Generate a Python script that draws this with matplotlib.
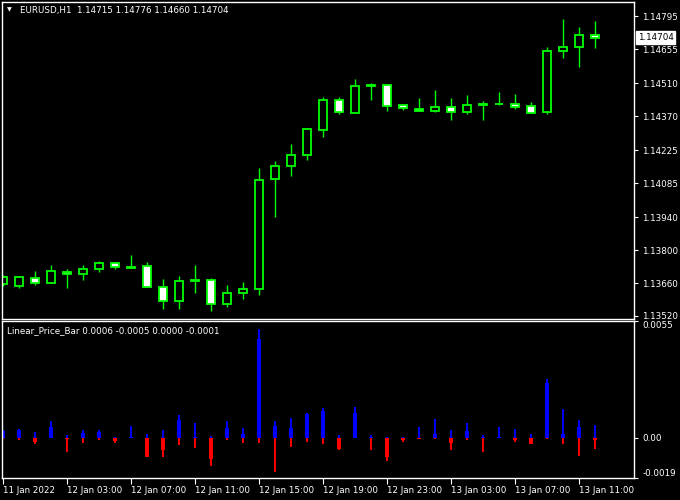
import numpy as np
import matplotlib
matplotlib.use("Agg")
import matplotlib.pyplot as plt

# EURUSD H1 candles
opens  = [1.13656, 1.13648, 1.13682, 1.13660, 1.13707, 1.13699, 1.13720, 1.13745,
          1.13724, 1.13733, 1.13643, 1.13584, 1.13669, 1.13673, 1.13571, 1.13618,
          1.13635, 1.14102, 1.14158, 1.14204, 1.14311, 1.14438, 1.14383, 1.14498,
          1.14502, 1.14415, 1.14398, 1.14393, 1.14410, 1.14389, 1.14419, 1.14420,
          1.14421, 1.14413, 1.14387, 1.14646, 1.14663, 1.14715]
highs  = [1.13694, 1.13688, 1.13711, 1.13737, 1.13720, 1.13737, 1.13754, 1.13750,
          1.13779, 1.13750, 1.13677, 1.13690, 1.13737, 1.13682, 1.13652, 1.13665,
          1.14149, 1.14179, 1.14251, 1.14319, 1.14451, 1.14451, 1.14527, 1.14510,
          1.14503, 1.14417, 1.14447, 1.14481, 1.14447, 1.14459, 1.14434, 1.14472,
          1.14464, 1.14430, 1.14663, 1.14782, 1.14748, 1.14776]
lows   = [1.13648, 1.13639, 1.13652, 1.13658, 1.13639, 1.13673, 1.13707, 1.13720,
          1.13722, 1.13641, 1.13550, 1.13550, 1.13619, 1.13541, 1.13558, 1.13592,
          1.13609, 1.13941, 1.14115, 1.14183, 1.14281, 1.14379, 1.14381, 1.14438,
          1.14391, 1.14396, 1.14393, 1.14387, 1.14353, 1.14379, 1.14353, 1.14419,
          1.14400, 1.14381, 1.14379, 1.14617, 1.14578, 1.14660]
closes = [1.13686, 1.13686, 1.13660, 1.13711, 1.13699, 1.13720, 1.13745, 1.13728,
          1.13728, 1.13643, 1.13584, 1.13669, 1.13671, 1.13571, 1.13618, 1.13635,
          1.14098, 1.14158, 1.14204, 1.14315, 1.14438, 1.14387, 1.14498, 1.14500,
          1.14413, 1.14404, 1.14393, 1.14410, 1.14387, 1.14419, 1.14420, 1.14421,
          1.14410, 1.14383, 1.14646, 1.14663, 1.14714, 1.14704]

price_ticks = [1.14795, 1.14655, 1.14510, 1.14370, 1.14225, 1.14085,
               1.13940, 1.13800, 1.13660, 1.13520]
ind_ticks = [0.0055, 0.0, -0.0019]
ind_tick_labels = ["0.0055", "0.00", "-0.0019"]
time_labels = ["11 Jan 2022", "12 Jan 03:00", "12 Jan 07:00", "12 Jan 11:00",
               "12 Jan 15:00", "12 Jan 19:00", "12 Jan 23:00", "13 Jan 03:00",
               "13 Jan 07:00", "13 Jan 11:00"]
last_price = 1.14704

o = np.array(opens); h = np.array(highs); l = np.array(lows); c = np.array(closes)
x = np.arange(len(o))

GREEN = "#00ff00"
plt.rcParams["font.family"] = ["DejaVu Sans"]
fs = 6.3

fig = plt.figure(figsize=(6.8, 5.0), dpi=100, facecolor="black")
W, H = 680.0, 500.0
ax1 = fig.add_axes([2/W, 1-319/H, 632/W, 317/H], facecolor="black")
ax2 = fig.add_axes([2/W, 1-478/H, 632/W, 157/H], facecolor="black")

for ax in (ax1, ax2):
    for s in ax.spines.values():
        s.set_color("white")
        s.set_linewidth(1.0)
    ax.set_xlim(-1/16, 631/16)
    ax.yaxis.tick_right()
    ax.tick_params(axis="y", colors="white", length=3, width=0.8, labelsize=fs, pad=3)

# candles
ax1.vlines(x, l, h, color=GREEN, linewidth=1.0, zorder=1)
bear = c < o
body_lo = np.minimum(o, c)
body_h = np.maximum(np.abs(c - o), 0.000006)
ax1.bar(x, body_h, bottom=body_lo, width=0.56,
        color=np.where(bear, "white", "black"), edgecolor=GREEN, linewidth=1.3, zorder=2)
ax1.set_ylim(1.13507, 1.14855)
ax1.set_yticks(price_ticks)
ax1.set_yticklabels(["%.5f" % p for p in price_ticks])
ax1.set_xticks([])
ax1.text(1.006, last_price, "1.14704", transform=ax1.get_yaxis_transform(),
         color="black", fontsize=fs, va="center", ha="left",
         bbox=dict(boxstyle="square,pad=0.2", fc="white", ec="white"))
ax1.text(18/632, 1-8/317, "EURUSD,H1  1.14715 1.14776 1.14660 1.14704",
         transform=ax1.transAxes, color="white", fontsize=fs, va="center", ha="left")
ax1.text(7/632, 1-8/317, "\u25bc", transform=ax1.transAxes, color="white",
         fontsize=4.5, va="center", ha="center")

# Linear_Price_Bar: candle re-based to its open
ho = h - o; lo = l - o; co = c - o
ax2.vlines(x, 0, ho, color="blue", linewidth=1.4, zorder=1)
ax2.vlines(x, lo, 0, color="red", linewidth=1.4, zorder=1)
ax2.bar(x, np.maximum(co, 0), width=0.28, color="blue", linewidth=0, zorder=2)
ax2.bar(x, np.minimum(co, 0), width=0.28, color="red", linewidth=0, zorder=2)
ax2.set_ylim(-0.0019, 0.0055)
ax2.set_yticks(ind_ticks)
ax2.set_yticklabels(ind_tick_labels)
lbls = ax2.get_yticklabels()
lbls[0].set_va("top")
lbls[2].set_va("bottom")
ax2.text(5/632, 1-10/157, "Linear_Price_Bar 0.0006 -0.0005 0.0000 -0.0001",
         transform=ax2.transAxes, color="white", fontsize=fs, va="center", ha="left")

ax2.set_xticks(x[::4][:len(time_labels)])
ax2.set_xticklabels(time_labels, ha="left")
ax2.tick_params(axis="x", colors="white", length=4, width=0.8, labelsize=fs, pad=2)

fig.savefig("out.png", dpi=100, facecolor="black")
